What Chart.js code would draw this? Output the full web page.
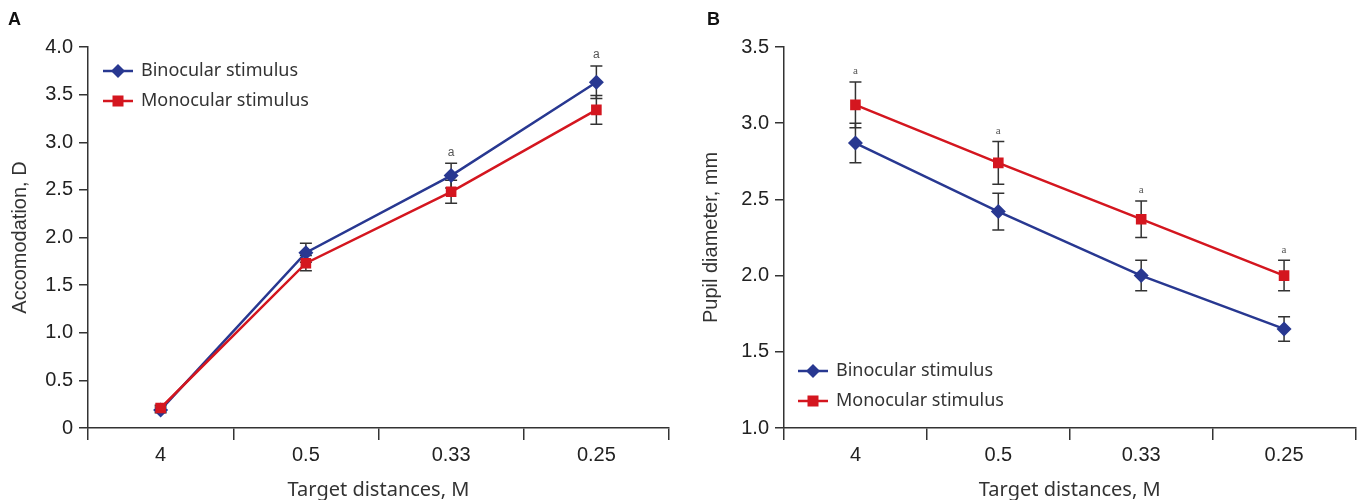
<!DOCTYPE html>
<html>
<head>
<meta charset="utf-8">
<script src="https://cdn.jsdelivr.net/npm/chart.js@4"></script>
<style>
  body { margin: 0; background: #fff; }
  .wrap { position: relative; width: 1363px; height: 500px; }
  .panel { position: absolute; top: 0; height: 500px; }
  .letter { position: absolute; top: 9px; font: bold 18px "Liberation Sans", Arial, sans-serif; color: #111; }
</style>
</head>
<body>
<div class="wrap">
  <div class="panel" style="left:0;width:681px"><canvas id="chartA" width="681" height="500"></canvas></div>
  <div class="panel" style="left:681px;width:682px"><canvas id="chartB" width="682" height="500"></canvas></div>
  <div class="letter" style="left:8px">A</div>
  <div class="letter" style="left:707px">B</div>
</div>
<script>
const categories = ['4', '0.5', '0.33', '0.25'];
const seriesNames = ['Binocular stimulus', 'Monocular stimulus'];

// panel A - accommodation (D)
const accBino = [0.19, 1.84, 2.65, 3.63];
const accBinoErr = [0.03, 0.10, 0.13, 0.17];
const accMono = [0.21, 1.73, 2.48, 3.34];
const accMonoErr = [0.03, 0.08, 0.12, 0.15];
const accSig = [false, false, true, true];

// panel B - pupil diameter (mm)
const pupBino = [2.87, 2.42, 2.00, 1.65];
const pupBinoErr = [0.13, 0.12, 0.10, 0.08];
const pupMono = [3.12, 2.74, 2.37, 2.00];
const pupMonoErr = [0.15, 0.14, 0.12, 0.10];
const pupSig = [true, true, true, true];

const blue = '#283891';
const red = '#d4161f';
const axisCol = '#333';

// error bars drawn before the lines so markers sit on top
const errorBars = {
    id: 'errorBars',
    beforeDatasetsDraw(chart) {
        const ctx = chart.ctx;
        const y = chart.scales.y;
        ctx.save();
        ctx.strokeStyle = '#333';
        ctx.lineWidth = 1.5;
        chart.data.datasets.forEach((ds, i) => {
            const meta = chart.getDatasetMeta(i);
            meta.data.forEach((pt, j) => {
                const e = ds.errors[j];
                const top = y.getPixelForValue(ds.data[j] + e);
                const bot = y.getPixelForValue(ds.data[j] - e);
                ctx.beginPath();
                ctx.moveTo(pt.x, top); ctx.lineTo(pt.x, bot);
                ctx.moveTo(pt.x - 6, top); ctx.lineTo(pt.x + 6, top);
                ctx.moveTo(pt.x - 6, bot); ctx.lineTo(pt.x + 6, bot);
                ctx.stroke();
            });
        });
        ctx.restore();
    },
    afterDatasetsDraw(chart, args, opts) {
        const ctx = chart.ctx;
        const y = chart.scales.y;
        const sets = chart.data.datasets;
        ctx.save();
        ctx.fillStyle = '#555';
        ctx.font = opts.font;
        ctx.textAlign = 'center';
        ctx.textBaseline = 'bottom';
        opts.sig.forEach((s, j) => {
            if (!s) return;
            let top = Infinity;
            sets.forEach((ds) => {
                top = Math.min(top, y.getPixelForValue(ds.data[j] + ds.errors[j]));
            });
            const x = chart.getDatasetMeta(0).data[j].x;
            ctx.fillText('a', x, top - 5);
        });
        ctx.restore();
    }
};

// legend with line + marker sample
const lineLegend = {
    id: 'lineLegend',
    afterDraw(chart, args, opts) {
        const ctx = chart.ctx;
        const a = chart.chartArea;
        ctx.save();
        ctx.font = '18px "Noto Sans", sans-serif';
        ctx.textBaseline = 'middle';
        chart.data.datasets.slice().sort((p, q) => p.legendIndex - q.legendIndex).forEach((ds, k) => {
            const x0 = a.left + opts.x;
            const yy = a.top + opts.y + k * 30;
            ctx.strokeStyle = ds.borderColor;
            ctx.lineWidth = 2.5;
            ctx.beginPath();
            ctx.moveTo(x0, yy); ctx.lineTo(x0 + 30, yy);
            ctx.stroke();
            ctx.fillStyle = ds.borderColor;
            const cx = x0 + 15;
            if (ds.pointStyle === 'rectRot') {
                ctx.beginPath();
                ctx.moveTo(cx, yy - 7); ctx.lineTo(cx + 7, yy); ctx.lineTo(cx, yy + 7); ctx.lineTo(cx - 7, yy);
                ctx.closePath(); ctx.fill();
            } else {
                ctx.fillRect(cx - 5.5, yy - 5.5, 11, 11);
            }
            ctx.fillStyle = '#333';
            ctx.fillText(ds.label, x0 + 38, yy);
        });
        ctx.restore();
    }
};

const makeChart = function (id, bino, binoErr, mono, monoErr, sig, yMin, yMax, yTitle, opt) {
    const ctx = document.getElementById(id).getContext('2d');
    return new Chart(ctx, {
        type: 'line',
        data: {
            labels: categories,
            datasets: [
                {
                    label: seriesNames[1], data: mono, errors: monoErr, legendIndex: 1,
                    borderColor: red, backgroundColor: red, borderWidth: 2.5,
                    pointStyle: 'rect', pointRadius: 7.5, pointHoverRadius: 7.5, pointBorderWidth: 0
                },
                {
                    label: seriesNames[0], data: bino, errors: binoErr, legendIndex: 0,
                    borderColor: blue, backgroundColor: blue, borderWidth: 2.5,
                    pointStyle: 'rectRot', pointRadius: 7.5, pointHoverRadius: 7.5, pointBorderWidth: 0
                }
            ]
        },
        options: {
            responsive: false,
            animation: false,
            events: [],
            layout: { padding: { top: 47, right: opt.right, left: 0, bottom: 0 } },
            plugins: {
                legend: { display: false },
                tooltip: { enabled: false },
                errorBars: { sig: sig, font: opt.sigFont },
                lineLegend: { x: opt.legX, y: opt.legY }
            },
            scales: {
                x: {
                    offset: true,
                    grid: { offset: true, drawOnChartArea: false, drawTicks: true, tickLength: 12, color: axisCol, lineWidth: 1.5 },
                    border: { display: true, color: axisCol, width: 1.5 },
                    ticks: { color: '#222', font: { family: '"Liberation Sans", Arial, sans-serif', size: 20 }, padding: 3 },
                    title: { display: true, text: 'Target distances, M', color: '#333', font: { family: '"Noto Sans", sans-serif', size: 20 }, padding: { top: 0, bottom: -2 } },
                    afterFit(s) { s.height = 72; }
                },
                y: {
                    min: yMin, max: yMax,
                    grid: { drawOnChartArea: false, drawTicks: true, tickLength: 9, color: axisCol, lineWidth: 1.5 },
                    border: { display: true, color: axisCol, width: 1.5 },
                    ticks: {
                        stepSize: 0.5, color: '#222', padding: 6,
                        font: { family: '"Liberation Sans", Arial, sans-serif', size: 20 },
                        callback: (v) => v === 0 ? '0' : v.toFixed(1)
                    },
                    title: { display: true, text: yTitle, color: '#333', font: { family: '"Liberation Sans", Arial, sans-serif', size: 20 }, padding: { top: opt.titlePad, bottom: 0 } },
                    afterFit(s) { s.width = opt.yWidth; }
                }
            }
        },
        plugins: [errorBars, lineLegend]
    });
};

document.addEventListener('DOMContentLoaded', function () {
    makeChart('chartA', accBino, accBinoErr, accMono, accMonoErr, accSig, 0, 4, 'Accomodation, D',
        { right: 12, yWidth: 88, titlePad: 8, legX: 15, legY: 24, sigFont: '12px "Liberation Sans", sans-serif' });
    makeChart('chartB', pupBino, pupBinoErr, pupMono, pupMonoErr, pupSig, 1, 3.5, 'Pupil diameter, mm',
        { right: 4, yWidth: 103, titlePad: 18, legX: 14, legY: 324, sigFont: '11px "Liberation Serif", serif' });
});
</script>
</body>
</html>
